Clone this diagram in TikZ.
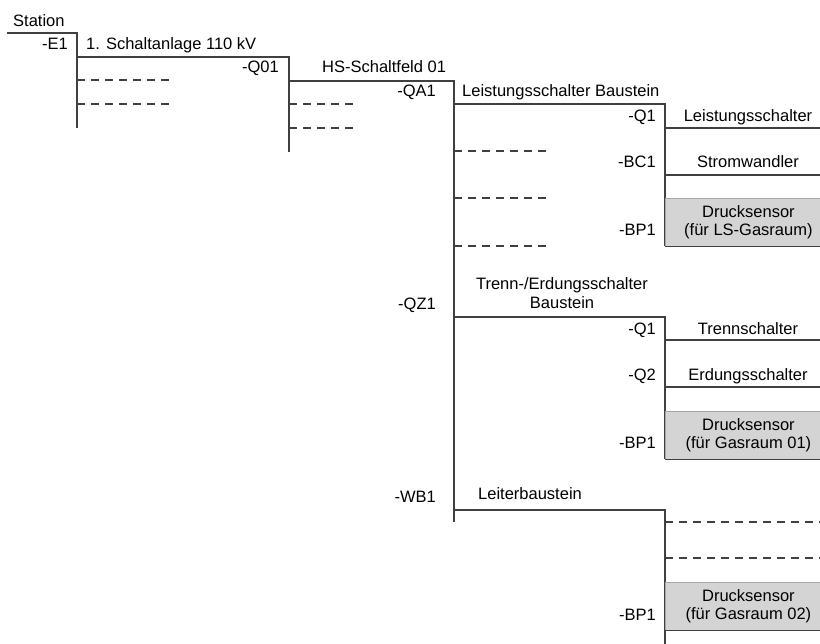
\documentclass[tikz,border=0pt]{standalone}
\usepackage{fontspec}
\setmainfont{Liberation Sans}
\usetikzlibrary{positioning}
\tikzset{
  wire/.style={draw=black!75, line width=1.1pt},
  stub/.style={draw=black!75, line width=1.1pt, dash pattern=on 8.3pt off 5.7pt},
  tag/.style={anchor=base east, inner sep=0pt},
  title/.style={anchor=base west, inner sep=0pt},
  item/.style={anchor=base, inner sep=0pt},
  sensorbox/.style={draw=black!35, fill=black!17, line width=0.8pt, anchor=north west,
    minimum width=155pt, minimum height=48pt, inner sep=0pt},
  sensortext/.style={align=center, inner sep=0pt}
}
\begin{document}
\begin{tikzpicture}[x=1pt, y=-1pt, font=\fontsize{16.5}{18.5}\selectfont]
  \useasboundingbox (0,0) rectangle (820,644);

  % Station
  \node[title] (station) at (13,27) {Station};
  \coordinate (stleft) at (7,33);
  \coordinate (e1) at (77,33);
  \coordinate (e1end) at (77,128);
  \draw[wire] (stleft) -- (e1) -- (e1end);
  \node[tag] (e1tag) at (68,50) {-E1};
  \node[title] (e1name) at (86,50) {1. Schaltanlage 110 kV};
  \foreach \y [count=\i] in {80,104}{
    \coordinate (e1s\i) at (77,\y);
    \coordinate (e1t\i) at (172,\y);
    \draw[stub] (e1s\i) -- (e1t\i);
  }

  % Schaltanlage
  \coordinate (e1q) at (77,57);
  \coordinate (q01) at (289,57);
  \coordinate (q01end) at (289,152);
  \draw[wire] (e1q) -- (q01) -- (q01end);
  \node[tag] (q01tag) at (279,73) {-Q01};
  \node[title] (q01name) at (322,73) {HS-Schaltfeld 01};
  \foreach \y [count=\i] in {104,128}{
    \coordinate (q01s\i) at (289,\y);
    \coordinate (q01t\i) at (356,\y);
    \draw[stub] (q01s\i) -- (q01t\i);
  }

  % Schaltfeld
  \coordinate (q01q) at (289,81);
  \coordinate (fld) at (454,81);
  \coordinate (fldend) at (454,522);
  \draw[wire] (q01q) -- (fld) -- (fldend);

  % -QA1
  \node[tag] (qa1tag) at (436,97) {-QA1};
  \node[title] (qa1name) at (462,97) {Leistungsschalter Baustein};
  \coordinate (qa1in) at (454,104);
  \coordinate (qa1) at (665,104);
  \coordinate (qa1end) at (665,246);
  \draw[wire] (qa1in) -- (qa1) -- (qa1end);
  \foreach \y [count=\i] in {151,198,246}{
    \coordinate (qa1s\i) at (454,\y);
    \coordinate (qa1t\i) at (549,\y);
    \draw[stub] (qa1s\i) -- (qa1t\i);
  }
  \node[tag] (qa1q1) at (656,122) {-Q1};
  \node[item] (lsname) at (748,122) {Leistungsschalter};
  \coordinate (lsa) at (665,128);
  \coordinate (lsb) at (820,128);
  \draw[wire] (lsa) -- (lsb);
  \node[tag] (qa1bc1) at (656,168) {-BC1};
  \node[item] (swname) at (748,168) {Stromwandler};
  \coordinate (swa) at (665,175);
  \coordinate (swb) at (820,175);
  \draw[wire] (swa) -- (swb);
  \node[sensorbox] (qa1box) at (665,198) {};
  \draw[wire] (qa1box.south west) -- (qa1box.south east);
  \node[sensortext] (qa1sens) at ([xshift=5.5pt]qa1box.center) {Drucksensor\\(für LS-Gasraum)};
  \node[tag] (qa1bp1) at (656,236) {-BP1};

  % -QZ1
  \node[tag] (qz1tag) at (436,310) {-QZ1};
  \node[align=center, inner sep=0pt] (qz1name) at (562,293) {Trenn-/Erdungsschalter\\Baustein};
  \coordinate (qz1in) at (454,317);
  \coordinate (qz1) at (665,317);
  \coordinate (qz1end) at (665,459);
  \draw[wire] (qz1in) -- (qz1) -- (qz1end);
  \node[tag] (qz1q1) at (656,335) {-Q1};
  \node[item] (tsname) at (748,335) {Trennschalter};
  \coordinate (tsa) at (665,340);
  \coordinate (tsb) at (820,340);
  \draw[wire] (tsa) -- (tsb);
  \node[tag] (qz1q2) at (656,381) {-Q2};
  \node[item] (esname) at (748,381) {Erdungsschalter};
  \coordinate (esa) at (665,387);
  \coordinate (esb) at (820,387);
  \draw[wire] (esa) -- (esb);
  \node[sensorbox] (qz1box) at (665,411) {};
  \draw[wire] (qz1box.south west) -- (qz1box.south east);
  \node[sensortext] (qz1sens) at ([xshift=5.5pt]qz1box.center) {Drucksensor\\(für Gasraum 01)};
  \node[tag] (qz1bp1) at (656,449) {-BP1};

  % -WB1
  \node[tag] (wb1tag) at (436,502) {-WB1};
  \node[title] (wb1name) at (478,500) {Leiterbaustein};
  \coordinate (wb1in) at (454,510);
  \coordinate (wb1) at (665,510);
  \coordinate (wb1end) at (665,644);
  \draw[wire] (wb1in) -- (wb1) -- (wb1end);
  \foreach \y [count=\i] in {522,558}{
    \coordinate (wb1s\i) at (665,\y);
    \coordinate (wb1t\i) at (820,\y);
    \draw[stub] (wb1s\i) -- (wb1t\i);
  }
  \node[sensorbox] (wb1box) at (665,582) {};
  \draw[wire] (wb1box.south west) -- (wb1box.south east);
  \node[sensortext] (wb1sens) at ([xshift=5.5pt]wb1box.center) {Drucksensor\\(für Gasraum 02)};
  \node[tag] (wb1bp1) at (656,620) {-BP1};
\end{tikzpicture}
\end{document}
